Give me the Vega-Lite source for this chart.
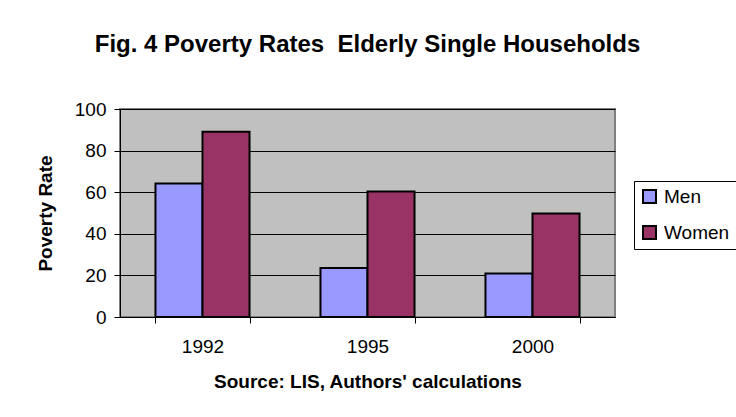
{
  "$schema": "https://vega.github.io/schema/vega-lite/v6.json",
  "autosize": "none",
  "padding": {"left": 120, "top": 109, "right": 121, "bottom": 100},
  "width": 495,
  "height": 208,
  "background": "white",
  "title": {
    "text": "Fig. 4 Poverty Rates \u00a0Elderly Single Households",
    "font": "Liberation Sans",
    "fontSize": 24,
    "fontWeight": "bold",
    "color": "black",
    "anchor": "middle",
    "offset": 43
  },
  "data": {
    "values": [
      {"year": "1992", "sex": "Men", "rate": 64.2},
      {"year": "1992", "sex": "Women", "rate": 89.1},
      {"year": "1995", "sex": "Men", "rate": 23.6},
      {"year": "1995", "sex": "Women", "rate": 60.3},
      {"year": "2000", "sex": "Men", "rate": 20.9},
      {"year": "2000", "sex": "Women", "rate": 49.8}
    ]
  },
  "mark": {"type": "bar", "stroke": "black", "strokeWidth": 2, "strokeOpacity": 1, "strokeJoin": "miter"},
  "encoding": {
    "x": {
      "field": "year",
      "type": "nominal",
      "scale": {"paddingInner": 0.43, "paddingOuter": 0.215},
      "axis": {
        "title": "Source: LIS, Authors' calculations",
        "labelAngle": 0,
        "tickBand": "extent",
        "grid": false,
        "tickSize": 6,
        "labelPadding": 14,
        "titlePadding": 16
      }
    },
    "xOffset": {"field": "sex", "type": "nominal", "scale": {"paddingInner": 0, "paddingOuter": 0}},
    "y": {
      "field": "rate",
      "type": "quantitative",
      "scale": {"domain": [0, 100]},
      "axis": {
        "title": "Poverty Rate",
        "values": [0, 20, 40, 60, 80, 100],
        "grid": true,
        "tickSize": 6,
        "labelPadding": 8,
        "titlePadding": 19
      }
    },
    "fill": {
      "field": "sex",
      "type": "nominal",
      "scale": {"domain": ["Men", "Women"], "range": ["#9999FF", "#993366"]},
      "legend": {
        "title": null,
        "orient": "none",
        "legendX": 514,
        "legendY": 72,
        "encode": {
          "symbols": {
            "update": {
              "stroke": {"value": "black"},
              "strokeWidth": {"value": 2},
              "opacity": {"value": 1}
            }
          }
        }
      }
    },
    "stroke": {"value": "black"},
    "strokeWidth": {"value": 2}
  },
  "config": {
    "font": "Liberation Sans",
    "view": {"fill": "#C0C0C0", "stroke": "#808080", "strokeWidth": 2},
    "axis": {
      "domainColor": "black",
      "domainWidth": 1,
      "tickColor": "black",
      "tickWidth": 1,
      "gridColor": "black",
      "gridWidth": 1,
      "gridOpacity": 1,
      "labelFont": "Liberation Sans",
      "labelFontSize": 19,
      "labelColor": "black",
      "titleFont": "Liberation Sans",
      "titleFontSize": 19,
      "titleFontWeight": "bold",
      "titleColor": "black"
    },
    "legend": {
      "strokeColor": "black",
      "strokeWidth": 1,
      "fillColor": "white",
      "padding": 6,
      "symbolType": "square",
      "symbolSize": 169,
      "symbolStrokeColor": "black",
      "symbolStrokeWidth": 2,
      "symbolOpacity": 1,
      "labelFont": "Liberation Sans",
      "labelFontSize": 19,
      "labelColor": "black",
      "labelOffset": 5,
      "rowPadding": 15
    }
  }
}
